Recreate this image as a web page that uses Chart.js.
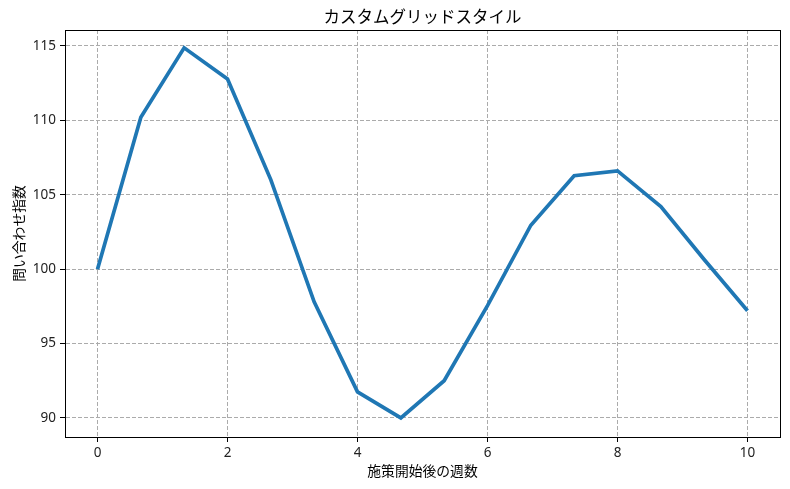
<!DOCTYPE html>
<html>
<head>
<meta charset="utf-8">
<script src="https://cdn.jsdelivr.net/npm/chart.js@4"></script>
<style>
  html, body { margin: 0; padding: 0; background: #fff; }
  #wrap { width: 790px; height: 489px; }
</style>
</head>
<body>
<div id="wrap"><canvas id="chart"></canvas></div>
<script>
const weeks = [0, 0.667, 1.333, 2, 2.667, 3.333, 4, 4.667, 5.333, 6, 6.667, 7.333, 8, 8.667, 9.333, 10];
const inquiries = [100.0, 110.2, 114.87, 112.78, 106.0, 97.8, 91.75, 90.0, 92.5, 97.55, 102.95, 106.28, 106.6, 104.2, 100.65, 97.2];
const xTicks = [0, 2, 4, 6, 8, 10];
const yTicks = [90, 95, 100, 105, 110, 115];

const titleText = 'カスタムグリッドスタイル';
const xLabel = '施策開始後の週数';
const yLabel = '問い合わせ指数';
const cjk = "'Noto Sans CJK JP', sans-serif";
const num = "'Noto Sans', 'DejaVu Sans', sans-serif";

// frame + title drawn on top of the chart area
const framePlugin = {
    id: 'frame',
    afterDraw(chart) {
        const { ctx, chartArea: a } = chart;
        ctx.save();
        ctx.strokeStyle = '#000';
        ctx.lineWidth = 1;
        ctx.strokeRect(Math.round(a.left) + 0.5, Math.round(a.top) + 0.5,
            Math.round(a.right - a.left), Math.round(a.bottom - a.top));
        ctx.fillStyle = '#000';
        ctx.font = '16.5px ' + cjk;
        ctx.textAlign = 'center';
        ctx.textBaseline = 'middle';
        ctx.fillText(titleText, (a.left + a.right) / 2, 17);
        ctx.restore();
    }
};

new Chart(document.getElementById('chart'), {
    type: 'line',
    data: {
        datasets: [{
            data: weeks.map((w, i) => ({ x: w, y: inquiries[i] })),
            borderColor: '#1f77b4',
            borderWidth: 3.7,
            pointRadius: 0,
            tension: 0,
            fill: false
        }]
    },
    options: {
        responsive: true,
        maintainAspectRatio: false,
        animation: false,
        layout: { padding: { top: 30, right: 10, left: 0, bottom: 0 } },
        plugins: {
            legend: { display: false },
            tooltip: { enabled: false }
        },
        scales: {
            x: {
                type: 'linear',
                min: -0.5,
                max: 10.5,
                afterBuildTicks: s => { s.ticks = xTicks.map(v => ({ value: v })); },
                afterFit: s => { s.height = 52; },
                ticks: { color: '#222', font: { family: num, size: 13.5 }, padding: 3 },
                grid: { color: '#ababab', lineWidth: 1, tickColor: '#000', tickLength: 5, tickBorderDash: [] },
                border: { display: true, color: '#000', width: 1, dash: [4, 2] },
                title: { display: true, text: xLabel, color: '#000', font: { family: cjk, size: 13.8 }, padding: { bottom: 10 } }
            },
            y: {
                min: 88.72,
                max: 116.07,
                afterBuildTicks: s => { s.ticks = yTicks.map(v => ({ value: v })); },
                afterFit: s => { s.width = 65; },
                ticks: { color: '#222', font: { family: num, size: 13.5 }, padding: 4 },
                grid: { color: '#ababab', lineWidth: 1, tickColor: '#000', tickLength: 5, tickBorderDash: [] },
                border: { display: true, color: '#000', width: 1, dash: [4, 2] },
                title: { display: true, text: yLabel, color: '#000', font: { family: cjk, size: 13.8 }, padding: { top: 10 } }
            }
        }
    },
    plugins: [framePlugin]
});
</script>
</body>
</html>
